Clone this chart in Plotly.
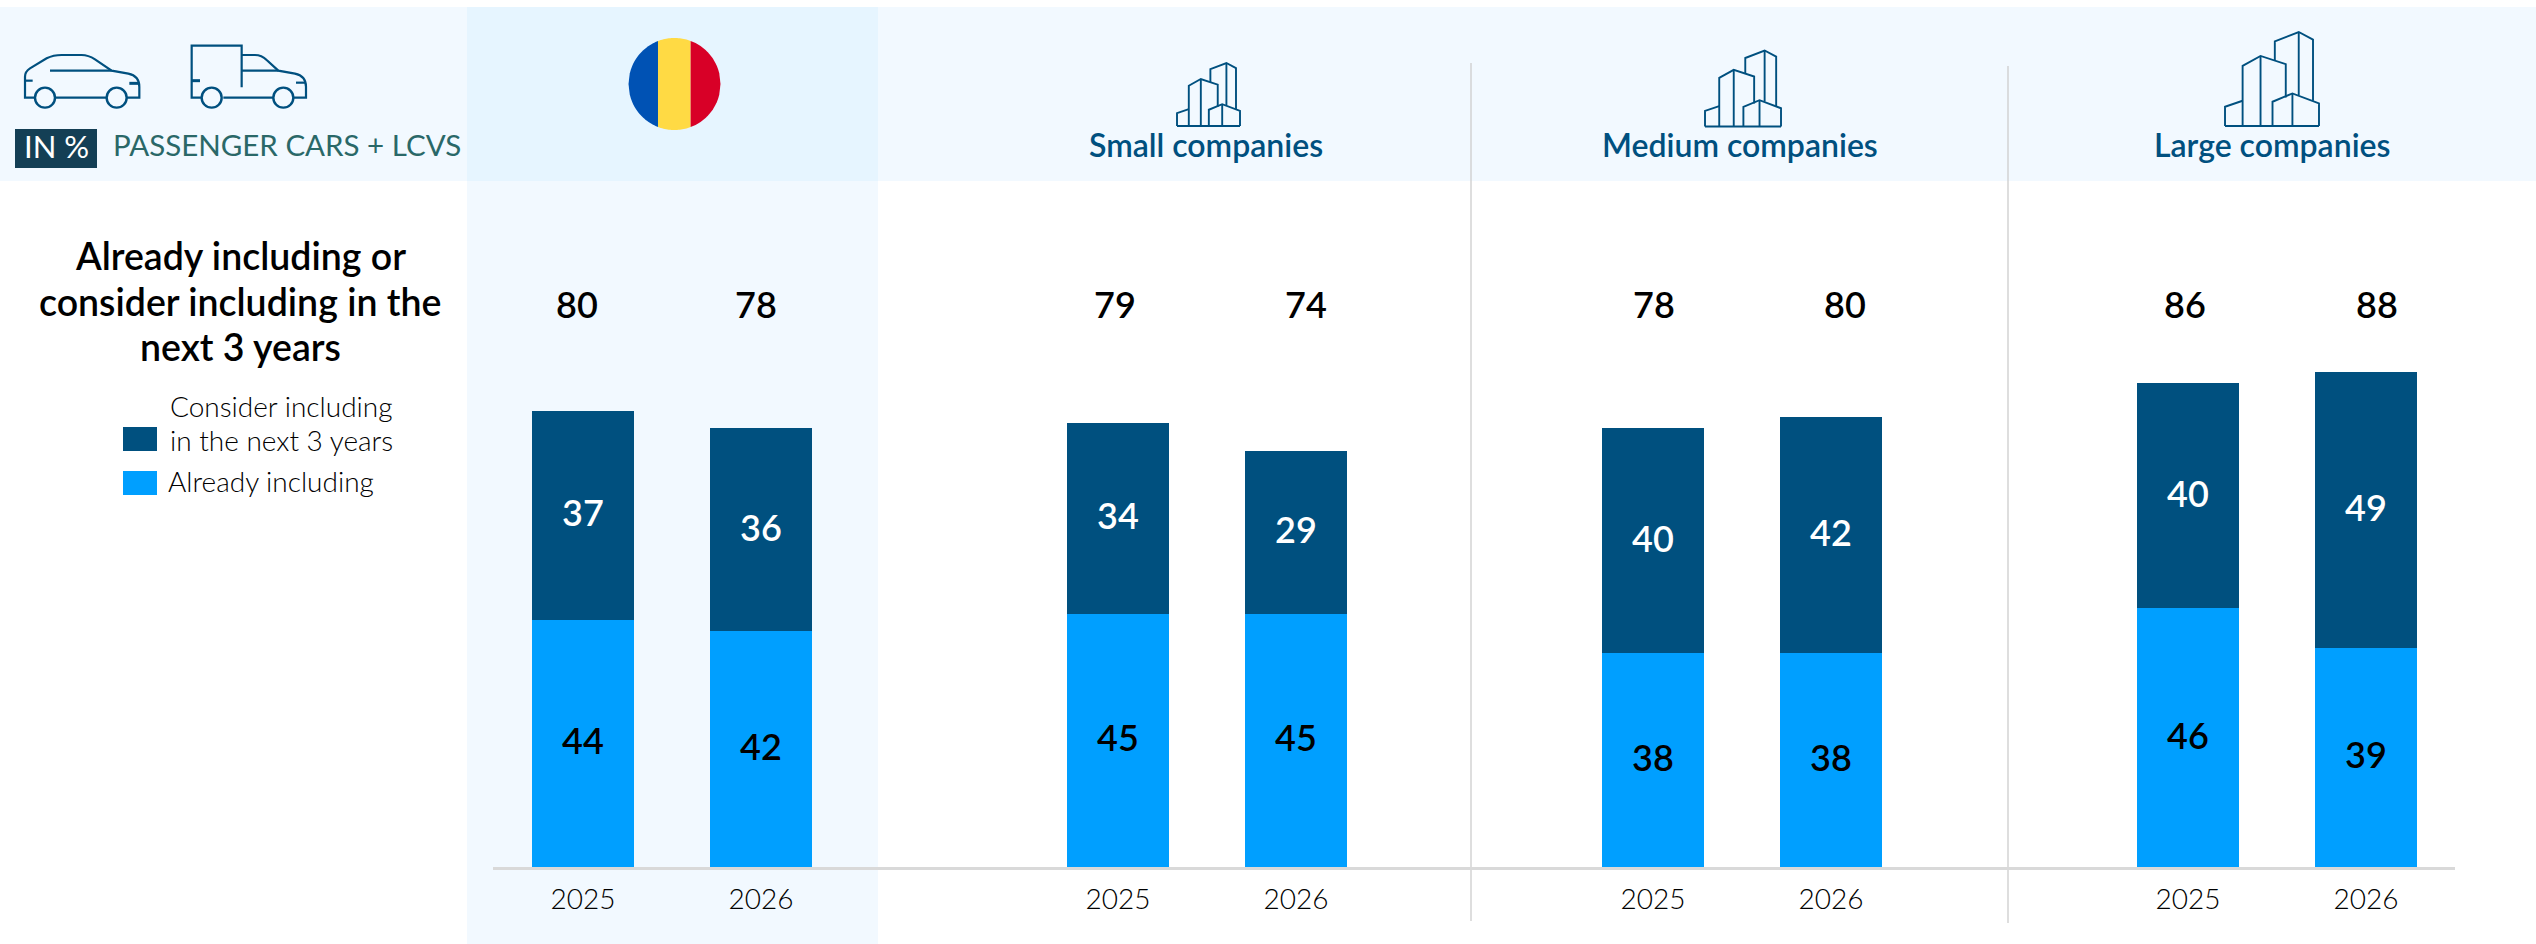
import math
import re
import plotly.graph_objects as go

# ---- data ----
years = ["2025", "2026"]
groups = ["Romania", "Small companies", "Medium companies", "Large companies"]
already_including = [[44, 42], [45, 45], [38, 38], [46, 39]]
consider_including = [[37, 36], [34, 29], [40, 42], [40, 49]]
totals = [[80, 78], [79, 74], [78, 80], [86, 88]]
series_names = ["Already including", "Consider including in the next 3 years"]

# ---- style ----
W, H = 2536, 944
FONT = "Lato"
DARK = "#00507F"
LIGHT = "#009FFF"
BAND = "#F2F9FF"
HILITE = "#E6F5FF"
GRID = "#D0D0D0"
BASE_Y = 867
PX_PER_UNIT = 5.625
PANEL_PX = [(494, 850), (1029, 1385), (1564, 1920), (2099, 2455)]
TOTAL_SHIFT = [(-6, -5), (-3, 10), (1, 14), (-3, 11)]
TOTAL_Y_PX = 304
LABEL_YSHIFT = 3
positions = list(range(len(years)))


def px(x):
    return x / W


def py(y):
    return 1 - y / H


def map_path(path, ox=0.0, oy=0.0, sx=1.0, sy=None):
    sy = sx if sy is None else sy
    out, nums = [], []
    for tok in re.findall(r"[A-Za-z]|-?[\d.]+", path):
        if tok.isalpha():
            out.append(tok)
        else:
            nums.append(float(tok))
            if len(nums) == 2:
                out.append(f"{px(ox + nums[0] * sx):.5f},{py(oy + nums[1] * sy):.5f}")
                nums = []
    return " ".join(out)


shapes = []


def rect(x0, y0, x1, y1, color):
    shapes.append(dict(type="rect", xref="paper", yref="paper", x0=px(x0), x1=px(x1),
                       y0=py(y1), y1=py(y0), fillcolor=color, line_width=0, layer="below"))


def line(x0, y0, x1, y1, color, width):
    shapes.append(dict(type="line", xref="paper", yref="paper", x0=px(x0), x1=px(x1),
                       y0=py(y0), y1=py(y1), line=dict(color=color, width=width), layer="below"))


def stroke(path, width=2.2, **kw):
    shapes.append(dict(type="path", xref="paper", yref="paper", path=map_path(path, **kw),
                       line=dict(color=DARK, width=width), fillcolor="rgba(0,0,0,0)", layer="above"))


def wheel(cx, cy, r):
    shapes.append(dict(type="circle", xref="paper", yref="paper", x0=px(cx - r), x1=px(cx + r),
                       y0=py(cy + r), y1=py(cy - r), line=dict(color=DARK, width=2.4),
                       fillcolor="rgba(0,0,0,0)", layer="above"))


# backgrounds
rect(0, 7, W, 181, BAND)
rect(467, 7, 878, 181, HILITE)
rect(467, 181, 878, 944, BAND)
rect(15, 129, 97, 168, "#143F55")
# dividers and baseline
line(1471, 63, 1471, 921, GRID, 1.4)
line(2008, 66, 2008, 923, GRID, 1.4)
line(493, 868.5, 2455, 868.5, "#D9D9D9", 3)

# car (drawn in a 3x local grid)
car = dict(ox=10, oy=30, sx=1 / 3)
stroke("M 75 203 L 45 203 L 45 140 Q 45 125 60 115 L 110 85 Q 130 75 155 75 L 215 75 Q 235 75 255 88 "
       "L 305 122 L 355 131 Q 388 138 388 170 L 388 203 L 350 203", **car)
stroke("M 135 203 L 290 203", **car)
stroke("M 120 122 L 305 122", **car)
stroke("M 45 152 L 68 152", **car)
stroke("M 358 160 L 388 160", width=3, **car)
wheel(10 + 105 / 3, 30 + 203 / 3, 10)
wheel(10 + 320 / 3, 30 + 203 / 3, 10)
# van
stroke("M 575 203 L 545 203 L 545 47 L 695 47 L 695 172", **car)
stroke("M 695 75 L 735 75 Q 755 75 770 90 L 805 122 L 855 131 Q 888 138 888 170 L 888 203 L 850 203", **car)
stroke("M 640 203 L 790 203", **car)
stroke("M 695 122 L 805 122", **car)
stroke("M 545 152 L 570 152", width=3, **car)
stroke("M 858 158 L 888 158", **car)
wheel(10 + 605 / 3, 30 + 203 / 3, 10)
wheel(10 + 820 / 3, 30 + 203 / 3, 10)

# building icon: one outline, placed at three sizes
BUILDING = [
    "M 45 318 L 45 260 L 98 242",
    "M 98 318 L 98 137 L 152 107 L 228 132 L 228 232",
    "M 152 107 L 152 318",
    "M 195 120 L 195 63 L 267 35 L 310 58 L 310 242",
    "M 267 35 L 267 225",
    "M 188 318 L 188 245 L 248 220 L 328 250 L 328 318",
    "M 248 220 L 248 318",
    "M 45 318 L 328 318",
]
for left, bottom, size in [(1177, 126, 63), (1705, 126.5, 76), (2225, 126, 94)]:
    k = size / 283
    for p in BUILDING:
        stroke(p, width=1.9, ox=left - 45 * k, oy=bottom - 318 * k, sx=k)

# flag: three stripes clipped to a circle
FCX, FCY, FR = 674.5, 84, 46
edges = [FCX - FR, 658, 690.6, FCX + FR]
for (a, b), col in zip(zip(edges, edges[1:]), ["#0052B4", "#FFDA44", "#D80027"]):
    n = 24
    xs = [a + (b - a) * i / n for i in range(n + 1)]
    half = [math.sqrt(max(FR ** 2 - (x - FCX) ** 2, 0)) for x in xs]
    pts = [(x, FCY - h) for x, h in zip(xs, half)] + [(x, FCY + h) for x, h in zip(reversed(xs), reversed(half))]
    d = "M " + " L ".join(f"{px(x):.5f},{py(y):.5f}" for x, y in pts) + " Z"
    shapes.append(dict(type="path", xref="paper", yref="paper", path=d, fillcolor=col, line_width=0, layer="above"))

# legend swatches
rect(123, 427, 157, 451, DARK)
rect(123, 471, 157, 495, LIGHT)

# ---- traces ----
fig = go.Figure()
axes = {}
annotations = []
for i, (panel, low, high) in enumerate(zip(PANEL_PX, already_including, consider_including)):
    suffix = "" if i == 0 else str(i + 1)
    fig.add_trace(go.Bar(x=positions, y=low, name=series_names[0], marker=dict(color=LIGHT, line_width=0),
                         xaxis="x" + suffix, yaxis="y", showlegend=False))
    fig.add_trace(go.Bar(x=positions, y=high, name=series_names[1], marker=dict(color=DARK, line_width=0),
                         xaxis="x" + suffix, yaxis="y", showlegend=False))
    axes["xaxis" + suffix] = dict(domain=[px(panel[0]), px(panel[1])], anchor="y", type="linear",
                                  range=[-0.5, 1.5], tickmode="array", tickvals=positions, ticktext=years,
                                  showgrid=False, zeroline=False, automargin=False,
                                  showline=False, ticks="", ticklabelstandoff=13,
                                  tickfont=dict(family=FONT, size=28, color="#000000", weight=300))
    # segment labels, centred on each stacked segment
    for pos, a, b in zip(positions, low, high):
        for value, mid, col in [(a, a / 2, "#000000"), (b, a + b / 2, "#FFFFFF")]:
            annotations.append(dict(xref="x" + suffix, yref="y", x=pos, y=mid, yshift=LABEL_YSHIFT,
                                    text=str(value), showarrow=False, yanchor="middle",
                                    font=dict(family=FONT, size=36, color=col, weight=600)))


def note(x, y, text, size, color="#000000", weight=400, anchor="center"):
    annotations.append(dict(xref="paper", yref="paper", x=px(x), y=py(y), text=text, showarrow=False,
                            xanchor=anchor, yanchor="middle", align="center",
                            font=dict(family=FONT, size=size, color=color, weight=weight)))


# totals above the bars
for i, (vals, shift) in enumerate(zip(totals, TOTAL_SHIFT)):
    suffix = "" if i == 0 else str(i + 1)
    for pos, v, s in zip(positions, vals, shift):
        annotations.append(dict(xref="x" + suffix, yref="y", x=pos, y=(BASE_Y - TOTAL_Y_PX) / PX_PER_UNIT,
                                xshift=s, text=str(v), showarrow=False, yanchor="middle",
                                font=dict(family=FONT, size=36, color="#000000", weight=600)))

note(56, 146, "IN %", 31, "#FFFFFF")
note(111, 145, "PASSENGER CARS + LCVS", 29.5, "#2A6868", anchor="left")
note(240, 256, "Already including or", 37.5, weight=600)
note(240, 301, "consider including in the", 37.5, weight=600)
note(240, 346, "next 3 years", 37.5, weight=600)
note(168, 406, "Consider including", 28, "#000000", weight=300, anchor="left")
note(168, 439.5, "in the next 3 years", 28, "#000000", weight=300, anchor="left")
note(166, 481.5, "Already including", 28, "#000000", weight=300, anchor="left")
for cx, name in zip([1206, 1740, 2272], groups[1:]):
    note(cx, 144, name, 32, DARK, weight=600)

fig.update_layout(
    width=W, height=H, margin=dict(l=0, r=0, t=0, b=0, autoexpand=False),
    paper_bgcolor="#FFFFFF", plot_bgcolor="rgba(0,0,0,0)",
    barmode="stack", bargap=0.427, showlegend=False,
    yaxis=dict(domain=[py(BASE_Y), 1], range=[0, BASE_Y / PX_PER_UNIT], visible=False, anchor="x"),
    shapes=shapes, annotations=annotations, hovermode=False, **axes,
)

fig.write_html("out.html", config={"displayModeBar": False},
               post_script="document.body.style.margin='0';document.body.style.overflow='hidden';")
